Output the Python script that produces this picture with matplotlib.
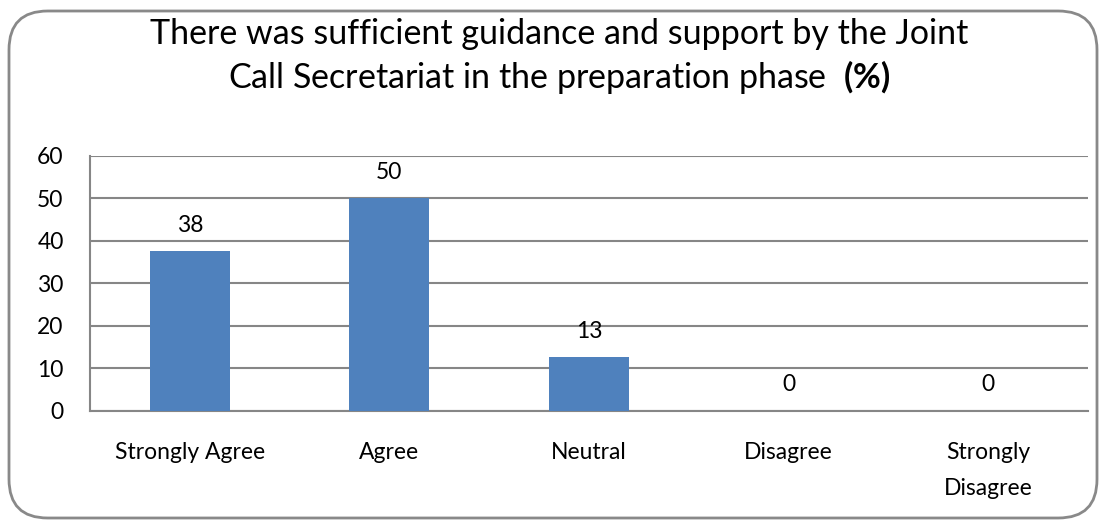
import matplotlib.pyplot as plt
from matplotlib.patches import FancyBboxPatch

categories = ['Strongly Agree', 'Agree', 'Neutral', 'Disagree', 'Strongly\nDisagree']
values = [37.5, 50, 12.5, 0, 0]
bar_labels = ['38', '50', '13', '0', '0']
yticks = [0, 10, 20, 30, 40, 50, 60]

plt.rcParams['font.family'] = ['Lato', 'DejaVu Sans']
plt.rcParams['mathtext.fontset'] = 'custom'
plt.rcParams['mathtext.rm'] = 'Lato'
plt.rcParams['mathtext.bf'] = 'Lato:bold'

fig = plt.figure(figsize=(11.07, 5.22), dpi=100)

# rounded outer frame
frame = FancyBboxPatch((9 / 1107, 4 / 522), 1088 / 1107, 507 / 522,
                       boxstyle='round,pad=0,rounding_size=0.035',
                       transform=fig.transFigure, facecolor='none',
                       edgecolor='#898989', linewidth=2, mutation_aspect=1107 / 522,
                       zorder=0)
fig.patches.append(frame)

ax = fig.add_axes([90 / 1107, 111.5 / 522, 998 / 1107, 254.5 / 522])
ax.set_facecolor('none')

x = range(len(categories))
bars = ax.bar(x, values, width=0.4, color='#4F81BD', zorder=3)
ax.bar_label(bars, labels=bar_labels, padding=11, fontsize=16.5)

ax.set_xlim(-0.5, len(categories) - 0.5)
ax.set_ylim(0, 60)
ax.set_yticks(yticks)
ax.set_xticks(list(x))
ax.set_xticklabels(categories, fontsize=16.5, linespacing=1.85, va='top')
ax.tick_params(axis='y', length=0, pad=19, labelsize=16.5)
ax.tick_params(axis='x', length=0, pad=23)

ax.grid(axis='y', color='#868686', linewidth=1.5, zorder=0)
for side in ['top', 'right']:
    ax.spines[side].set_visible(False)
for side in ['left', 'bottom']:
    ax.spines[side].set_color('#868686')
    ax.spines[side].set_linewidth(1.5)

fig.text(0.505, 0.935, 'There was sufficient guidance and support by the Joint',
         ha='center', va='center', fontsize=24.5)
fig.text(0.505, 0.853, r'Call Secretariat in the preparation phase  $\mathbf{(\%)}$',
         ha='center', va='center', fontsize=24.5)

fig.savefig('out.png', dpi=100)
